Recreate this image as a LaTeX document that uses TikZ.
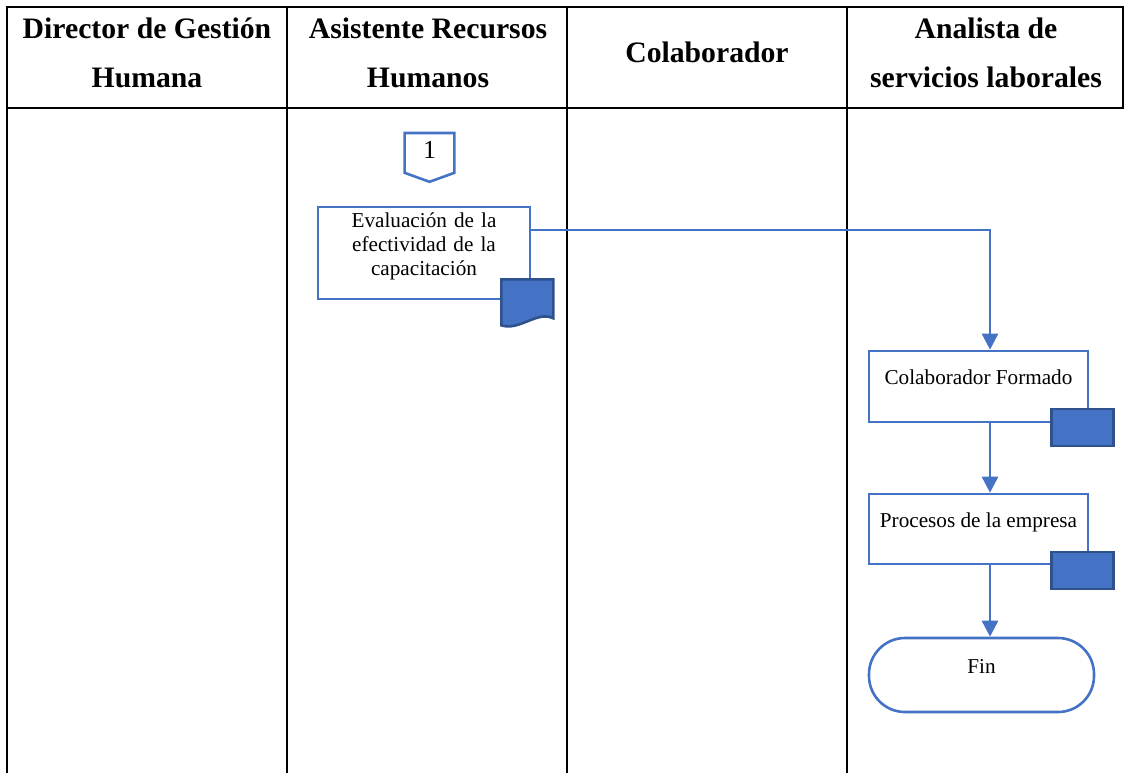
\documentclass[tikz,border=0pt]{standalone}
\usepackage{fontspec}
\setmainfont{Liberation Serif}
\usepackage{tikz}
\usetikzlibrary{calc,arrows.meta}
\definecolor{flowblue}{HTML}{4472C4}
\definecolor{flowedge}{HTML}{2F528F}

\begin{document}
\begin{tikzpicture}[x=0.5pt,y=-0.5pt,
  lane/.style={line width=1.3pt,black,line cap=rect},
  head/.style={align=center,font=\fontsize{14.85}{24.5}\selectfont\bfseries},
  proc/.style={draw=flowblue,line width=1.3pt,fill=white,font=\fontsize{10.6}{12}\selectfont,text height=8pt,text depth=10pt},
  fillmark/.style={draw=flowedge,fill=flowblue,line width=1.3pt},
  tag/.style={fillmark,minimum width=31pt,minimum height=18.5pt,inner sep=0pt},
  flow/.style={draw=flowblue,line width=1.3pt,-{Triangle[length=8pt,width=8pt]}}]
\useasboundingbox (0,0) rectangle (1124,772);
\draw[lane] (7,108) -- (1123,108) -- (1123,7) -- (7,7);
\foreach \x in {7,287,567,847}
  \draw[lane] (\x,7) -- (\x,772);
\node[head] (hdir) at (147,53) {Director de Gestión\\Humana};
\node[head] (hasis) at (428,53) {Asistente Recursos\\Humanos};
\node[head] (hcolab) at (707,52) {Colaborador};
\node[head] (hanal) at (986,53) {Analista de\\servicios laborales};

\node[font=\fontsize{13}{15}\selectfont,minimum width=24.5pt,minimum height=19.5pt,inner sep=0pt,text height=8.8pt,text depth=3pt,anchor=north] (link) at (429.5,133) {1};
\draw[draw=flowblue,line width=1.3pt] (link.north west) -- (link.north east) -- (link.south east) -- ($(link.south)+(0,9)$) -- (link.south west) -- cycle;

\node[proc,text width=100pt,inner xsep=3pt,inner ysep=0pt,align=center,minimum width=106pt,minimum height=46pt,text height=7.2pt,text depth=32.3pt] (eval) at (424,253) {Evaluación de la\\efectividad de la\\capacitación};
\draw[fillmark] ([shift={(-30,-21)}]eval.south east) -- ++(52,0) -- ++(0,39) .. controls +(-16,-8) and +(18,6) .. ([shift={(-30,25)}]eval.south east) -- cycle;

\node[proc,minimum width=109.5pt,minimum height=35.5pt] (colab) at (978.5,386.5) {Colaborador Formado};
\node[proc,minimum width=109.5pt,minimum height=35pt] (proc) at (978.5,529) {Procesos de la empresa};
\node[proc,rounded corners=18pt,minimum width=112.5pt,minimum height=37pt] (fin) at (981.5,675) {Fin};
\node[tag] (colabtag) at ($(colab.south east)+(-7,4)$) {};
\node[tag] (proctag) at ($(proc.south east)+(-7,5)$) {};

\coordinate (spine) at (990,0);
\draw[flow] ([yshift=11.5pt]eval.east) -| (colab.north -| spine);
\draw[flow] (colab.south -| spine) -- (proc.north -| spine);
\draw[flow] (proc.south -| spine) -- (fin.north -| spine);
\end{tikzpicture}
\end{document}
